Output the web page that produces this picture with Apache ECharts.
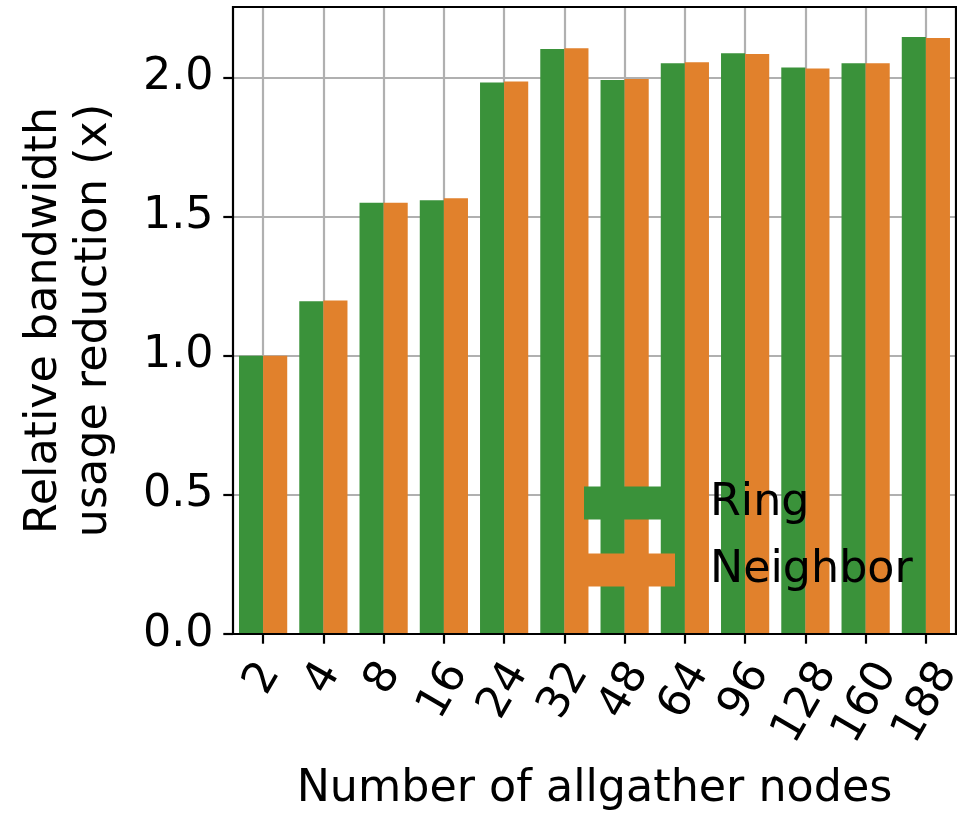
<!DOCTYPE html>
<html>
<head>
<meta charset="utf-8">
<script src="https://cdn.jsdelivr.net/npm/echarts@6/dist/echarts.min.js"></script>
<style>
html,body{margin:0;padding:0;background:#fff;}
#chart{width:957px;height:817px;}
</style>
</head>
<body>
<div id="chart"></div>
<script>
const categories = ['2','4','8','16','24','32','48','64','96','128','160','188'];
const ringValues = [1.0, 1.195, 1.549, 1.558, 1.981, 2.102, 1.990, 2.050, 2.086, 2.035, 2.050, 2.145];
const neighborValues = [1.0, 1.198, 1.549, 1.565, 1.985, 2.104, 1.994, 2.054, 2.084, 2.032, 2.050, 2.141];
const yTicks = [0, 0.5, 1.0, 1.5, 2.0];
const seriesNames = ['Ring', 'Neighbor'];
const xTitle = 'Number of allgather nodes';
const yTitle = 'Relative bandwidth\nusage reduction (x)';

const FONT = 'DejaVu Sans';
const FS = 44.4;
const GREEN = '#3a923a';
const ORANGE = '#e1812c';
const GRID = '#b0b0b0';

const chart = echarts.init(document.getElementById('chart'), null, {renderer: 'canvas'});

const option = {
  animation: false,
  backgroundColor: '#fff',
  textStyle: {fontFamily: FONT},
  grid: {left: 233, right: 1, top: 7, bottom: 183, containLabel: false},
  legend: {
    orient: 'vertical',
    left: 584, top: 481,
    padding: 0,
    itemWidth: 91, itemHeight: 33, itemGap: 23,
    icon: 'rect',
    selectedMode: false,
    itemStyle: {borderWidth: 0},
    textStyle: {fontFamily: FONT, fontSize: FS, color: '#000', padding: [0, 0, 0, 30]},
    data: seriesNames
  },
  xAxis: {
    type: 'category',
    data: categories,
    boundaryGap: true,
    name: xTitle,
    nameLocation: 'middle',
    nameGap: 155.6,
    nameTextStyle: {fontFamily: FONT, fontSize: FS, color: '#000', verticalAlign: 'middle', lineHeight: FS},
    axisLine: {show: false},
    axisTick: {show: true, alignWithLabel: true, length: 9.7, lineStyle: {color: '#000', width: 2.2}},
    axisLabel: {show: false},
    splitLine: {show: true, alignWithLabel: true, interval: 0, lineStyle: {color: GRID, width: 2.2}}
  },
  yAxis: {
    type: 'value',
    min: 0, max: 2.2525,
    interval: 0.5,
    name: yTitle,
    nameLocation: 'middle',
    nameRotate: 90,
    nameGap: 163.4,
    nameTextStyle: {fontFamily: FONT, fontSize: FS, color: '#000', lineHeight: 50, align: 'center', verticalAlign: 'middle'},
    axisLine: {show: false},
    axisTick: {show: true, length: 9.7, customValues: yTicks, lineStyle: {color: '#000', width: 2.2}},
    axisLabel: {
      show: true, margin: 19.4, customValues: yTicks,
      fontFamily: FONT, fontSize: FS, color: '#000',
      formatter: v => Number(v).toFixed(1)
    },
    splitLine: {show: true, lineStyle: {color: GRID, width: 2.2}}
  },
  series: [
    {name: seriesNames[0], type: 'bar', data: ringValues, barGap: '0%', barCategoryGap: '20%',
     itemStyle: {color: GREEN}, z: 2},
    {name: seriesNames[1], type: 'bar', data: neighborValues, barGap: '0%', barCategoryGap: '20%',
     itemStyle: {color: ORANGE}, z: 2}
  ]
};
chart.setOption(option);

// Derived decorations: rotated tick labels (matplotlib style, centered under ticks) and frame
const ctx = document.createElement('canvas').getContext('2d');
ctx.font = FS + 'px "' + FONT + '"';
const x0 = chart.convertToPixel({xAxisIndex: 0}, categories[0]);
const x1 = chart.convertToPixel({xAxisIndex: 0}, categories[1]);
const band = x1 - x0;
const yZero = chart.convertToPixel({yAxisIndex: 0}, 0);
const yTop = chart.convertToPixel({yAxisIndex: 0}, option.yAxis.max);
const xLeft = x0 - band / 2;
const xRight = chart.convertToPixel({xAxisIndex: 0}, categories[categories.length - 1]) + band / 2;

const ang = Math.PI / 3;
const textH = 1.164 * FS;
const pad = 9.7 + 9.7;
const graphics = categories.map(c => {
  const cx = chart.convertToPixel({xAxisIndex: 0}, c);
  const w = ctx.measureText(c).width;
  const cy = yZero + pad + (w / 2) * Math.sin(ang) + (textH / 2) * Math.cos(ang);
  return {
    type: 'text', x: cx, y: cy, rotation: ang, z: 10, silent: true,
    style: {text: c, fontFamily: FONT, fontSize: FS, fill: '#000', align: 'center', verticalAlign: 'middle'}
  };
});
graphics.push({
  type: 'rect', z: 20, silent: true,
  shape: {x: xLeft, y: yTop, width: xRight - xLeft, height: yZero - yTop},
  style: {fill: 'none', stroke: '#000', lineWidth: 2.2}
});
chart.setOption({graphic: graphics});
</script>
</body>
</html>
